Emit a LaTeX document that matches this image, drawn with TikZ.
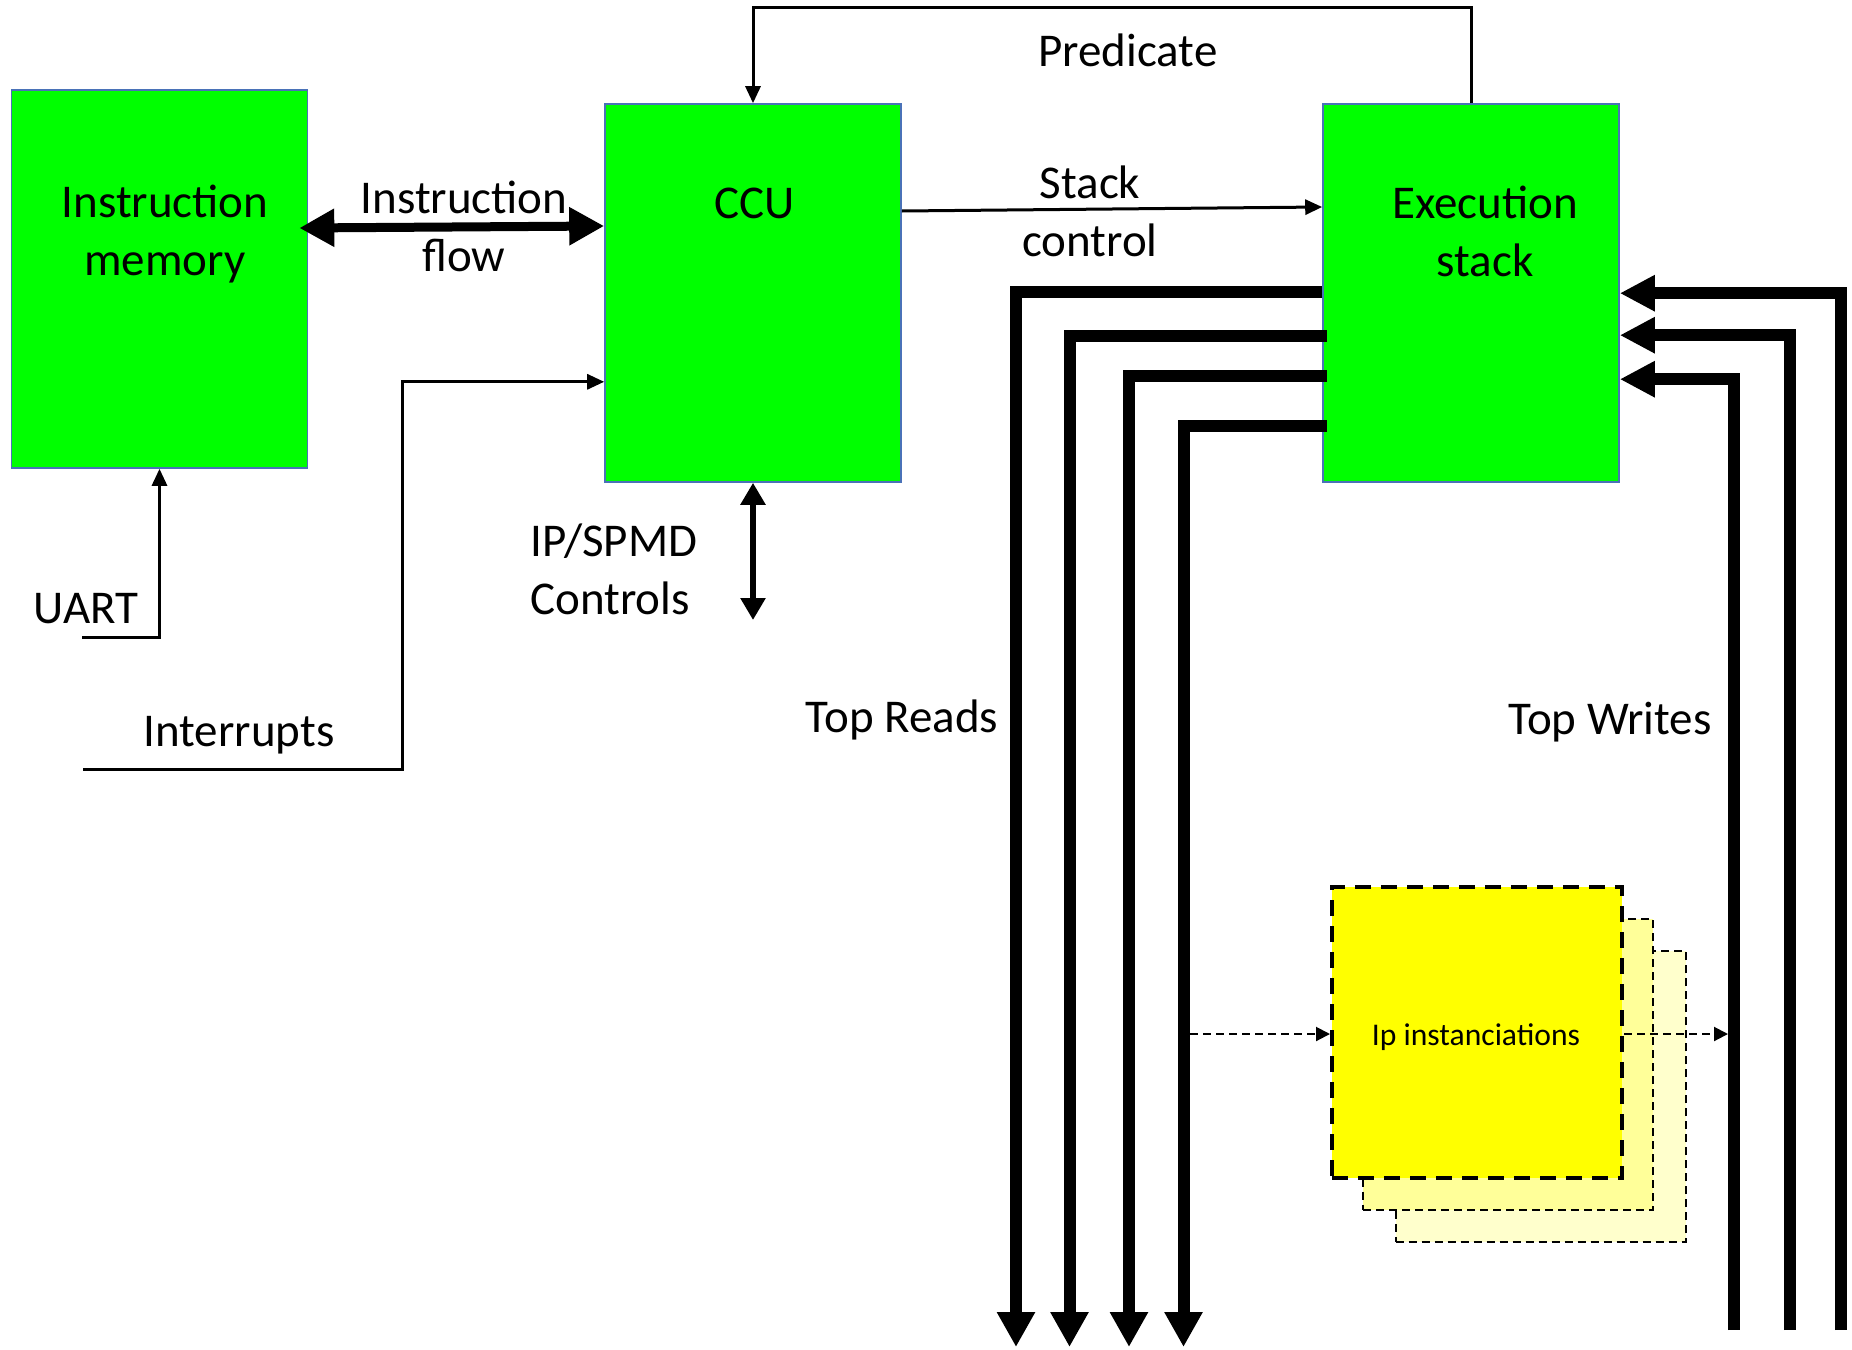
\documentclass[tikz,border=0pt]{standalone}
\usepackage{fontspec}
\setmainfont{Carlito}
\usetikzlibrary{arrows.meta}
\definecolor{boxgreen}{HTML}{00FF00}
\definecolor{boxedge}{HTML}{4A72B8}
\definecolor{ipyA}{HTML}{FFFF00}
\definecolor{ipyB}{HTML}{FFFF99}
\definecolor{ipyC}{HTML}{FFFFCC}
\begin{document}
\begin{tikzpicture}[x=0.5pt,y=-0.5pt,
  blk/.style={draw=boxedge,line width=0.8pt,fill=boxgreen,minimum width=148pt,minimum height=189pt,inner sep=0pt},
  lbl/.style={font=\fontsize{23.5}{29}\selectfont,align=center,inner sep=0pt},
  thn/.style={line width=1.5pt,-{Triangle[length=8.5pt,width=7.5pt]}},
  flowarr/.style={line width=4.5pt,{Triangle[length=17.5pt,width=18pt]}-{Triangle[length=17.5pt,width=18pt]}},
  iparr/.style={line width=3pt,{Triangle[length=11pt,width=12pt]}-{Triangle[length=11pt,width=12pt]}},
  rd/.style={line width=6pt,-{Triangle[length=17.5pt,width=18pt]}},
  wr/.style={line width=6pt,-{Triangle[length=17.5pt,width=17pt]}},
  ipbox/.style={minimum width=145pt,minimum height=145.5pt,inner sep=0pt},
  ipmain/.style={ipbox,draw,fill=ipyA,line width=2pt,dash pattern=on 8pt off 5pt},
  ipback/.style={ipbox,draw,line width=1pt,dash pattern=on 4pt off 2.5pt},
  dsharr/.style={line width=1pt,dash pattern=on 4pt off 2.5pt,-{Triangle[length=7pt,width=7pt]}}
]
\useasboundingbox[fill=white] (0,0) rectangle (1852,1349);

% main blocks
\node[blk] (mem) at (159.5,279) {};
\node[blk] (ccu) at (753,293) {};
\node[blk] (exec) at (1471,293) {};

\node[lbl] (memtxt) at (165,234.5) {Instruction\\memory};
\node[lbl] (ccutxt) at (755,203) {CCU};
\node[lbl] (exectxt) at (1485,231) {Execution\\stack};

% predicate feedback
\draw[thn] (exec.north) -- ++(0,-96) -| (ccu.north);
\node[lbl] (predtxt) at (1128,50.5) {Predicate};

% stack control
\draw[thn] ([yshift=41pt]ccu.east) -- ([yshift=43pt]exec.west);
\node[lbl] (sctxt) at (1090,211) {Stack\\control};

% instruction flow
\draw[flowarr] ([xshift=-4.5pt,yshift=25.5pt]mem.east) -- ([yshift=33.5pt]ccu.west);
\node[lbl] (iftxt) at (464,226.5) {Instruction\\flow};

% UART
\coordinate (uartin) at (82,637);
\draw[thn] (uartin) -| (mem.south);
\node[lbl] (uarttxt) at (86,609) {UART};

% Interrupts
\coordinate (intin) at (83,769);
\draw[thn] (intin) -- ++(319,0) |- ([yshift=-44.4pt]ccu.west);
\node[lbl] (inttxt) at (239,735) {Interrupts};

% IP/SPMD controls
\coordinate (ipctl) at (753,620);
\draw[iparr] (ccu.south) -- (ipctl);
\node[lbl,align=left,anchor=west] (ipctxt) at (530,569) {IP/SPMD\\Controls};

% IP instanciation stack
\node[ipback,fill=ipyC] (ipc) at (1540.5,1096.5) {};
\node[ipback,fill=ipyB] (ipb) at (1508,1064) {};
\node[ipmain] (ip) at (1477,1032.5) {};
\node[inner sep=0pt,font=\fontsize{15.8}{19}\selectfont] (iptxt) at (1476,1037.5) {Ip instanciations};

% top reads
\coordinate (rA) at (1016,1347);
\coordinate (rB) at (1069.5,1347);
\coordinate (rC) at (1129,1347);
\coordinate (rD) at (1183.5,1347);
\draw[rd] ([yshift=-94.5pt]exec.north west) -| (rA);
\draw[rd] ([xshift=2.5pt,yshift=-116.5pt]exec.north west) -| (rB);
\draw[rd] ([xshift=2.5pt,yshift=-136.5pt]exec.north west) -| (rC);
\draw[rd] ([xshift=2.5pt,yshift=-161.5pt]exec.north west) -| (rD);
\node[lbl] (rdtxt) at (902,720) {Top Reads};

% top writes
\coordinate (wA) at (1841,1330);
\coordinate (wB) at (1790,1330);
\coordinate (wC) at (1734,1330);
\draw[wr] (wA) |- ([yshift=-95pt]exec.north east);
\draw[wr] (wB) |- ([yshift=-116pt]exec.north east);
\draw[wr] (wC) |- ([yshift=-138pt]exec.north east);
\node[lbl] (wrtxt) at (1610,722) {Top Writes};

% dashed links through the IP instances
\coordinate (ipinput) at (1190,1034);
\coordinate (ipoutput) at (1728,1034);
\draw[dsharr] (ipinput) -- (ip.west |- ipinput);
\draw[dsharr] (ip.east |- ipoutput) -- (ipoutput);
\end{tikzpicture}
\end{document}
